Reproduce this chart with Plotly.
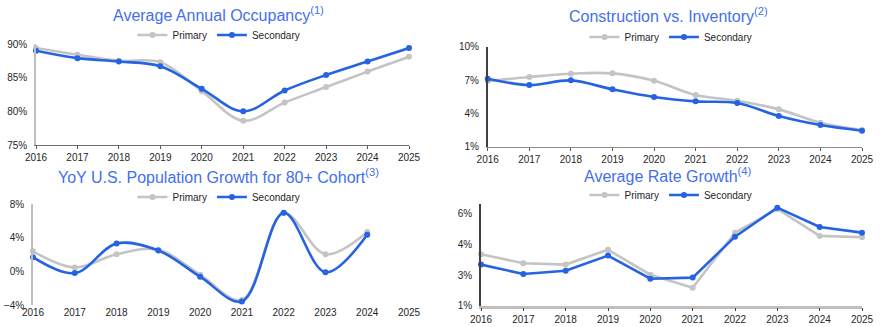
import plotly.graph_objects as go

years = [2016, 2017, 2018, 2019, 2020, 2021, 2022, 2023, 2024, 2025]
years_pop = [2016, 2017, 2018, 2019, 2020, 2021, 2022, 2023, 2024]

occ_primary = [89.4, 88.4, 87.5, 87.3, 83.0, 78.6, 81.3, 83.6, 85.9, 88.1]
occ_secondary = [89.0, 87.9, 87.4, 86.7, 83.35, 80.0, 83.1, 85.4, 87.4, 89.4]

con_primary = [6.91, 7.27, 7.57, 7.6, 6.94, 5.65, 5.14, 4.36, 3.16, 2.5]
con_secondary = [7.12, 6.55, 6.97, 6.16, 5.47, 5.08, 4.93, 3.76, 2.95, 2.44]

pop_primary = [2.4, 0.48, 2.06, 2.58, -0.4, -3.4, 6.95, 2.06, 4.7]
pop_secondary = [1.7, -0.2, 3.33, 2.5, -0.63, -3.57, 7.0, -0.1, 4.37]

rate_primary = [3.69, 3.22, 3.15, 3.93, 2.62, 1.94, 4.82, 6.06, 4.65, 4.58]
rate_secondary = [3.15, 2.66, 2.83, 3.62, 2.41, 2.47, 4.61, 6.13, 5.12, 4.82]

rate_tickvals = [1, 2.6, 4.2, 5.8]
rate_ticktext = ["1%", "3%", "4%", "6%"]

titles = ["Average Annual Occupancy<sup>(1)</sup>",
          "Construction vs. Inventory<sup>(2)</sup>",
          "YoY U.S. Population Growth for 80+ Cohort<sup>(3)</sup>",
          "Average Rate Growth<sup>(4)</sup>"]

GRAY = "#C4C4C4"
BLUE = "#2563E3"
TITLE_C = "#4470EC"
FONT = "Liberation Sans, Arial, sans-serif"
TXT = "#262626"

W, H = 881, 327
def px(x):
    return x / W
def py(y):
    return (H - y) / H

fig = go.Figure()

def add_pair(xs, prim, sec, xa, ya, lg, shape):
    fig.add_trace(go.Scatter(x=xs, y=prim, name="Primary", mode="lines+markers",
                             line=dict(color=GRAY, width=2.6, shape=shape),
                             marker=dict(size=6, color=GRAY),
                             xaxis=xa, yaxis=ya, legend=lg, cliponaxis=False))
    fig.add_trace(go.Scatter(x=xs, y=sec, name="Secondary", mode="lines+markers",
                             line=dict(color=BLUE, width=2.6, shape=shape),
                             marker=dict(size=6, color=BLUE),
                             xaxis=xa, yaxis=ya, legend=lg, cliponaxis=False))

add_pair(years, occ_primary, occ_secondary, "x", "y", "legend", "spline")
add_pair(years, con_primary, con_secondary, "x2", "y2", "legend2", "spline")
add_pair(years_pop, pop_primary, pop_secondary, "x3", "y3", "legend3", "spline")
add_pair(years, rate_primary, rate_secondary, "x4", "y4", "legend4", "linear")

tickfont = dict(family=FONT, size=10, color=TXT)

def xaxis(dom, anchor, linecolor, linewidth=1, tickcolor="#595959", ticks="outside", showline=True):
    return dict(domain=dom, anchor=anchor, range=[2016, 2025], tickvals=years,
                showgrid=False, zeroline=False, showline=showline, linecolor=linecolor,
                linewidth=linewidth, ticks=ticks, ticklen=3, tickcolor=tickcolor,
                tickfont=tickfont, fixedrange=True, automargin=False)

def yaxis(dom, anchor, rng, linecolor, **kw):
    d = dict(domain=dom, anchor=anchor, range=rng, showgrid=False, zeroline=False,
             showline=True, linecolor=linecolor, linewidth=1.5, ticks="",
             ticksuffix="%", tickfont=tickfont, ticklabelstandoff=5, fixedrange=True,
             automargin=False)
    d.update(kw)
    return d

d1y = [py(145), py(44)]
d2y = [py(146.7), py(46.7)]
d3y = [py(305), py(204.3)]
d4y = [py(305.7), py(204)]

fig.update_layout(
    xaxis=xaxis([px(36), px(409)], "y", "#6E6E6E"),
    yaxis=yaxis(d1y, "x", [75, 90], "#BFBFBF", tick0=75, dtick=5),
    xaxis2=xaxis([px(487.7), px(862)], "y2", "#8C8C8C"),
    yaxis2=yaxis(d2y, "x2", [1, 10], "#404040", tick0=1, dtick=3),
    xaxis3=xaxis([px(33), px(409)], "y3", "#8C8C8C", ticks="", showline=False),
    yaxis3=yaxis(d3y, "x3", [-4, 8], "#BFBFBF", tick0=-4, dtick=4),
    xaxis5=dict(domain=[px(33), px(409)], overlaying="x3", anchor="free",
                position=d3y[0] + (4 / 12) * (d3y[1] - d3y[0]),
                range=[2016, 2025], tickvals=years, showticklabels=False,
                showgrid=False, zeroline=False, showline=True, linecolor="#8C8C8C",
                linewidth=1, ticks="outside", ticklen=3, tickcolor="#595959",
                fixedrange=True, automargin=False),
    xaxis4=xaxis([px(481), px(862)], "y4", "#BFBFBF", linewidth=2.5, tickcolor="#404040"),
    yaxis4=yaxis(d4y, "x4", [1, 6.32], "#404040", tickvals=rate_tickvals,
                 ticktext=rate_ticktext, ticksuffix=""),
)

legend_common = dict(orientation="h", xanchor="center", yanchor="middle",
                     font=dict(family=FONT, size=10, color=TXT),
                     bgcolor="rgba(0,0,0,0)", itemwidth=30, tracegroupgap=0)
fig.update_layout(
    legend=dict(x=px(219), y=py(35), **legend_common),
    legend2=dict(x=px(671), y=py(37), **legend_common),
    legend3=dict(x=px(219), y=py(197), **legend_common),
    legend4=dict(x=px(671), y=py(195), **legend_common),
)

title_pos = [(218, 14), (668, 15), (218, 176), (668, 175)]
for t, (tx, ty) in zip(titles, title_pos):
    fig.add_annotation(text=t, x=px(tx), y=py(ty), xref="paper", yref="paper",
                       xanchor="center", yanchor="middle", showarrow=False,
                       font=dict(family=FONT, size=16, color=TITLE_C))

fig.update_layout(width=W, height=H, margin=dict(l=0, r=0, t=0, b=0),
                  paper_bgcolor="white", plot_bgcolor="white",
                  font=dict(family=FONT, color=TXT), hovermode=False)

fig.write_html("out.html", config={"displayModeBar": False})
